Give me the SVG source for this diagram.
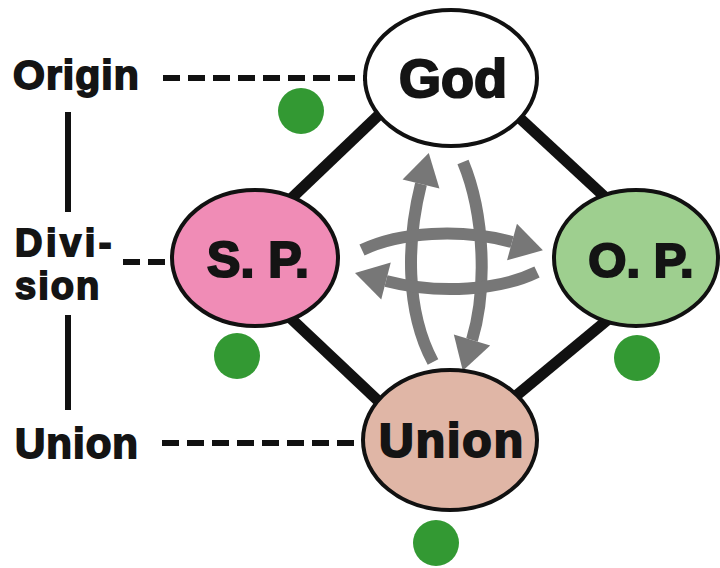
<svg xmlns="http://www.w3.org/2000/svg" width="720" height="568" viewBox="0 0 720 568">
<style>
.lbl{font-family:"Liberation Sans",Arial,sans-serif;font-weight:bold;fill:#141414;stroke:#141414;stroke-width:1.8}
.nodeTxt{font-family:"Liberation Sans",Arial,sans-serif;font-weight:bold;fill:#141414;stroke:#141414;stroke-width:2.2;text-anchor:middle}
.node{stroke:#111;stroke-width:4}
.edge{stroke:#111;stroke-width:11;stroke-linecap:butt}
.dash{stroke:#111;stroke-width:6;stroke-dasharray:17 8;fill:none}
.vline{stroke:#111;stroke-width:6}
.arc{stroke:#777;stroke-width:12;fill:none;stroke-linecap:butt}
.dot{fill:#339933}
</style>
<defs>
<marker id="ah" markerUnits="userSpaceOnUse" markerWidth="40" markerHeight="44" viewBox="0 -22 34 44" refX="0" refY="0" orient="auto">
<path d="M0,-19 L32,0 L0,19 Z" fill="#777"/>
</marker>
</defs>
<rect width="720" height="568" fill="#fff"/>
<g id="connectors">
<line class="edge" x1="385" y1="109" x2="275" y2="214"/>
<line class="edge" x1="510" y1="109" x2="620" y2="211"/>
<line class="edge" x1="283" y1="311" x2="390" y2="412"/>
<line class="edge" x1="617" y1="312" x2="505" y2="405"/>
<line class="dash" x1="163" y1="78" x2="366" y2="78"/>
<line class="dash" x1="123" y1="262" x2="174" y2="262"/>
<line class="dash" x1="162" y1="443" x2="364" y2="443"/>
<line class="vline" x1="68" y1="112" x2="68" y2="212"/>
<line class="vline" x1="68" y1="315" x2="68" y2="410"/>
<path class="arc" d="M433 362 C405 310 407 240 421 184" marker-end="url(#ah)"/>
<path class="arc" d="M463 162 C485 215 487 290 472 340" marker-end="url(#ah)"/>
<path class="arc" d="M362 250 C400 232 460 228 512 242" marker-end="url(#ah)"/>
<path class="arc" d="M537 272 C500 290 440 295 386 281" marker-end="url(#ah)"/>
</g>
<g id="god">
<ellipse class="node" cx="451" cy="78" rx="86" ry="68" fill="#fff"/>
<text class="nodeTxt" x="453" y="97" font-size="54">God</text>
</g>
<g id="sp">
<ellipse class="node" cx="255" cy="258" rx="83" ry="68" fill="#f08cb6"/>
<text class="nodeTxt" x="258" y="277" font-size="50">S. P.</text>
</g>
<g id="op">
<ellipse class="node" cx="636" cy="258" rx="82" ry="68" fill="#9ecf8f"/>
<text class="nodeTxt" x="641" y="277" font-size="49">O. P.</text>
</g>
<g id="union">
<ellipse class="node" cx="450" cy="440" rx="87" ry="70" fill="#e0b6a6"/>
<text class="nodeTxt" x="452" y="457" font-size="48" letter-spacing="2">Union</text>
</g>
<g id="labels">
<text class="lbl" x="13" y="89" font-size="41" letter-spacing="1">Origin</text>
<text class="lbl" x="15" y="256" font-size="38" letter-spacing="3.5">Divi-</text>
<text class="lbl" x="15" y="299" font-size="38" letter-spacing="2">sion</text>
<text class="lbl" x="15" y="458" font-size="42" letter-spacing="1">Union</text>
</g>
<g id="dots">
<circle class="dot" cx="301" cy="111" r="23"/>
<circle class="dot" cx="237" cy="356" r="23"/>
<circle class="dot" cx="637" cy="358" r="23"/>
<circle class="dot" cx="436" cy="543" r="23"/>
</g>
</svg>
